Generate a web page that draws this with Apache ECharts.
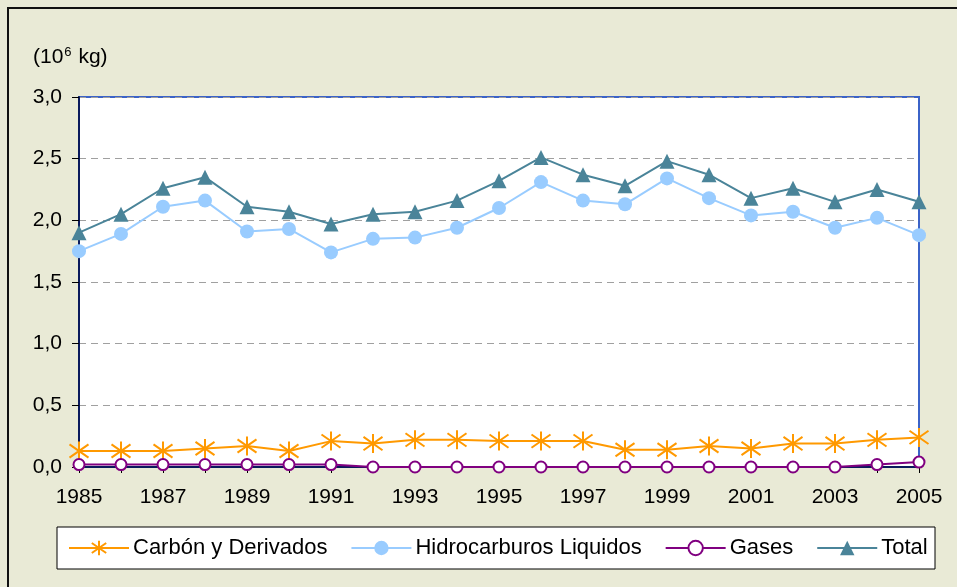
<!DOCTYPE html>
<html>
<head>
<meta charset="utf-8">
<script src="https://cdn.jsdelivr.net/npm/echarts@6/dist/echarts.min.js"></script>
<style>
  html, body { margin: 0; padding: 0; background: #E9EAD6; }
  #chart { width: 957px; height: 587px; }
</style>
</head>
<body>
<div id="chart"></div>
<script>
// datos
var years = ['1985','1986','1987','1988','1989','1990','1991','1992','1993','1994','1995',
             '1996','1997','1998','1999','2000','2001','2002','2003','2004','2005'];
var carbon = [0.13, 0.13, 0.13, 0.15, 0.17, 0.13, 0.21, 0.19, 0.22, 0.22, 0.21,
              0.21, 0.21, 0.14, 0.14, 0.17, 0.15, 0.19, 0.19, 0.22, 0.24];
var hidro  = [1.75, 1.89, 2.11, 2.16, 1.91, 1.93, 1.74, 1.85, 1.86, 1.94, 2.10,
              2.31, 2.16, 2.13, 2.34, 2.18, 2.04, 2.07, 1.94, 2.02, 1.88];
var gases  = [0.02, 0.02, 0.02, 0.02, 0.02, 0.02, 0.02, 0.00, 0.00, 0.00, 0.00,
              0.00, 0.00, 0.00, 0.00, 0.00, 0.00, 0.00, 0.00, 0.02, 0.04];
var total  = [1.90, 2.05, 2.26, 2.35, 2.11, 2.07, 1.97, 2.05, 2.07, 2.16, 2.32,
              2.51, 2.37, 2.28, 2.48, 2.37, 2.18, 2.26, 2.15, 2.25, 2.15];

var fontName = 'Liberation Sans, Arial, sans-serif';
var asterisco = 'path://M10,0 L10,20 M1,3 L19,17 M1,17 L19,3';

var chart = echarts.init( document.getElementById('chart') );
chart.setOption({
	backgroundColor: '#E9EAD6',
	animation: false,
	title: {
		left: 28,
		top: 41,
		text: '{a|(10}{b|6}{a| kg)}',
		textStyle: {
			fontWeight: 'normal',
			rich: {
				a: { fontFamily: fontName, fontSize: 21, fontWeight: 'normal', color: '#000' },
				b: { fontFamily: fontName, fontSize: 13, fontWeight: 'normal', color: '#000', verticalAlign: 'top', padding: [0, 1, 10, 1] }
			}
		}
	},
	graphic: [
		{
			type: 'rect',
			shape: { x: 8, y: 8, width: 1000, height: 700 },
			style: { fill: 'none', stroke: '#111', lineWidth: 2 },
			silent: true
		},
		{
			type: 'rect',
			shape: { x: 57, y: 527, width: 878, height: 42 },
			style: { fill: '#fff', stroke: '#000', lineWidth: 1 },
			silent: true,
			z: -1
		}
	],
	legend: {
		left: 68,
		top: 537,
		padding: 0,
		itemWidth: 60,
		itemHeight: 18,
		itemGap: 23,
		textStyle: { fontFamily: fontName, fontSize: 22, color: '#000', padding: [0, 0, 0, -1] },
		data: ['Carbón y Derivados', 'Hidrocarburos Liquidos', 'Gases', 'Total']
	},
	grid: {
		left: 79,
		right: 38,
		top: 97,
		bottom: 120,
		show: true,
		backgroundColor: '#fff',
		borderColor: '#3B63C8',
		borderWidth: 2
	},
	xAxis: {
		type: 'category',
		data: years,
		boundaryGap: false,
		axisLine: { lineStyle: { color: '#0A1A5C', width: 2 } },
		axisTick: { show: true, interval: 0, length: 6, lineStyle: { color: '#000' } },
		axisLabel: { interval: 1, margin: 20, color: '#000', fontFamily: fontName, fontSize: 21 },
		splitLine: { show: false }
	},
	yAxis: {
		type: 'value',
		min: 0,
		max: 3,
		interval: 0.5,
		axisLine: { show: true, lineStyle: { color: '#0A1A5C', width: 2 } },
		axisTick: { show: true, length: 7, lineStyle: { color: '#000' } },
		axisLabel: {
			margin: 17,
			color: '#000',
			fontFamily: fontName,
			fontSize: 21,
			formatter: function ( v ) { return v.toFixed( 1 ).replace( '.', ',' ); }
		},
		splitLine: { show: true, lineStyle: { color: '#A0A0A0', type: [7, 5], width: 1 } }
	},
	series: [
		{
			name: 'Carbón y Derivados',
			type: 'line',
			data: carbon,
			symbol: asterisco,
			symbolSize: 19,
			lineStyle: { color: '#FF9900', width: 2 },
			itemStyle: { color: 'rgba(0,0,0,0)', borderColor: '#FF9900', borderWidth: 2 },
			z: 3
		},
		{
			name: 'Hidrocarburos Liquidos',
			type: 'line',
			data: hidro,
			symbol: 'circle',
			symbolSize: 14,
			lineStyle: { color: '#99CCFF', width: 2 },
			itemStyle: { color: '#99CCFF' },
			z: 3
		},
		{
			name: 'Gases',
			type: 'line',
			data: gases,
			symbol: 'emptyCircle',
			symbolSize: 11,
			lineStyle: { color: '#800080', width: 2 },
			itemStyle: { color: '#800080', borderColor: '#800080', borderWidth: 2 },
			z: 4
		},
		{
			name: 'Total',
			type: 'line',
			data: total,
			symbol: 'triangle',
			symbolSize: 15,
			lineStyle: { color: '#4A8499', width: 2 },
			itemStyle: { color: '#4A8499' },
			z: 3
		}
	]
});
</script>
</body>
</html>
